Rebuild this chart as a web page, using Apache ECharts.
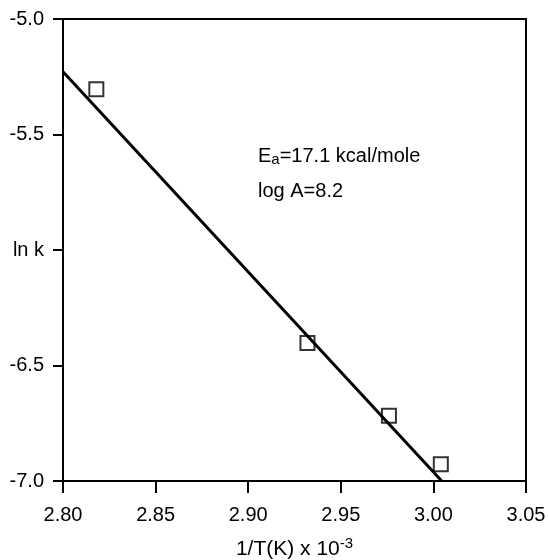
<!DOCTYPE html>
<html>
<head>
<meta charset="utf-8">
<script src="https://cdn.jsdelivr.net/npm/echarts@6/dist/echarts.min.js"></script>
<style>
html,body{margin:0;padding:0;background:#fff;}
#chart{width:548px;height:560px;}
</style>
</head>
<body>
<div id="chart"></div>
<script>
// measured points (1/T x 10^-3, ln k)
var invT = [2.818, 2.932, 2.976, 3.004];
var lnK = [-5.304, -6.403, -6.717, -6.928];
// fitted line endpoints
var fitX = [2.80, 3.0045];
var fitY = [-5.228, -7.0];
var xTicks = ['2.80', '2.85', '2.90', '2.95', '3.00', '3.05'];
var yTicks = ['-7.0', '-6.5', 'ln k', '-5.5', '-5.0'];

var font = 'Liberation Sans, Arial, Helvetica, sans-serif';
var myChart = echarts.init(document.getElementById('chart'));

var pts = invT.map(function (x, i) { return [x, lnK[i]]; });
var fit = fitX.map(function (x, i) { return [x, fitY[i]]; });

var option = {
  animation: false,
  backgroundColor: '#fff',
  grid: {
    left: 63, right: 22, top: 19, bottom: 79,
    outerBoundsMode: 'none', containLabel: false,
    show: true, borderColor: '#000', borderWidth: 2
  },
  xAxis: {
    type: 'value', min: 2.80, max: 3.05, interval: 0.05,
    axisLine: { show: true, onZero: false, lineStyle: { color: '#000', width: 2 } },
    axisTick: { show: true, inside: false, length: 12, lineStyle: { color: '#000', width: 2 } },
    splitLine: { show: false },
    axisLabel: {
      color: '#000', fontSize: 20, fontFamily: font, margin: 24,
      formatter: function (v) { return xTicks[Math.round((v - 2.80) / 0.05)]; }
    },
    name: '1/T(K) x 10{sup|-3}',
    nameLocation: 'middle', nameGap: 55,
    nameTextStyle: {
      color: '#000', fontSize: 21, fontFamily: font,
      rich: { sup: { fontSize: 15, color: '#000', fontFamily: font, verticalAlign: 'top', padding: [0, 0, 12, 0] } }
    }
  },
  yAxis: {
    type: 'value', min: -7.0, max: -5.0, interval: 0.5,
    axisLine: { show: true, onZero: false, lineStyle: { color: '#000', width: 2 } },
    axisTick: { show: true, inside: false, length: 10, lineStyle: { color: '#000', width: 2 } },
    splitLine: { show: false },
    axisLabel: {
      color: '#000', fontSize: 20, fontFamily: font, margin: 19,
      formatter: function (v) { return yTicks[Math.round((v + 7.0) / 0.5)]; }
    }
  },
  graphic: [
    {
      type: 'text', left: 258, top: 146,
      style: {
        text: 'E{sub|a}=17.1 kcal/mole',
        fill: '#000', fontSize: 20, fontFamily: font,
        rich: { sub: { fontSize: 15, fill: '#000', fontFamily: font, padding: [8, 0, 0, 0] } }
      }
    },
    {
      type: 'text', left: 258, top: 181,
      style: { text: 'log A=8.2', fill: '#000', fontSize: 20, fontFamily: font }
    }
  ],
  series: [
    {
      type: 'scatter', data: pts, symbol: 'rect', symbolSize: 14,
      itemStyle: { color: 'rgba(0,0,0,0)', borderColor: '#000', borderWidth: 2 },
      z: 2
    },
    {
      type: 'line', data: fit, symbol: 'none',
      lineStyle: { color: '#000', width: 3 },
      z: 3
    }
  ]
};
myChart.setOption(option);
</script>
</body>
</html>
